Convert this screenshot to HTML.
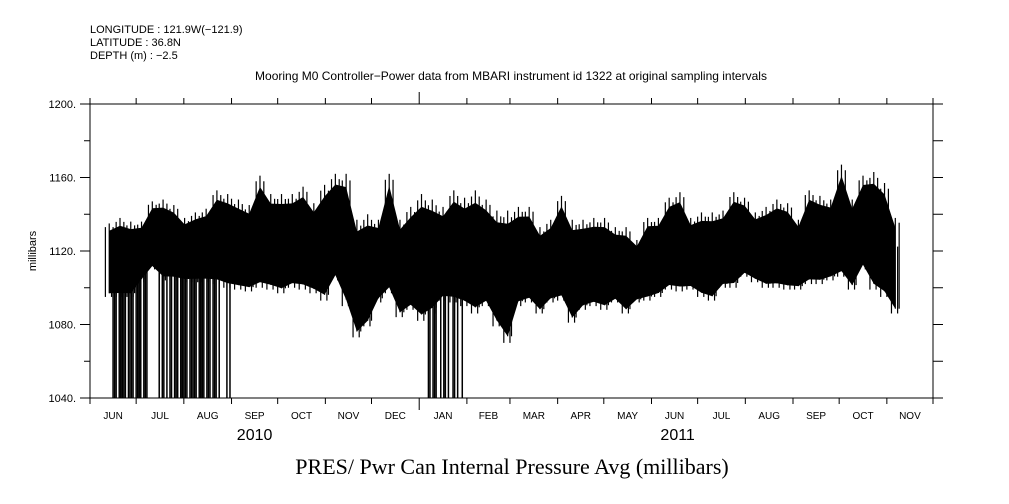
<!DOCTYPE html>
<html><head><meta charset="utf-8"><style>
body{margin:0;background:#fff;}
svg{display:block;font-family:"Liberation Sans",sans-serif;}
</style></head><body>
<svg id="chart" width="1009" height="504" viewBox="0 0 1009 504" xmlns="http://www.w3.org/2000/svg">
<g font-size="11" fill="#000">
<text x="90" y="33">LONGITUDE : 121.9W(−121.9)</text>
<text x="90" y="46">LATITUDE : 36.8N</text>
<text x="90" y="59">DEPTH (m) : −2.5</text>
</g>
<text x="511" y="80" font-size="12" text-anchor="middle">Mooring M0 Controller−Power data from MBARI instrument id 1322 at original sampling intervals</text>
<g id="axes"></g>
<g id="marks"></g>
<rect x="90" y="104" width="843" height="294" fill="none" stroke="#000" stroke-width="1"/>
<text transform="translate(36,251) rotate(-90)" font-size="11" text-anchor="middle">millibars</text>
<text x="512" y="474" font-family="'Liberation Serif',serif" font-size="22" text-anchor="middle">PRES/ Pwr Can Internal Pressure Avg (millibars)</text>
</svg>
<script>
// weekly bins starting 2010-06-10 (day 9 after Jun 1 2010)
const binHigh = [1135,1138,1136,1136,1147,1148,1145,1138,1141,1143,1153,1151,1148,1145,1161,1151,1151,1151,1155,1146,1156,1162,1162,1137,1140,1137,1162,1137,1144,1151,1148,1144,1153,1149,1153,1148,1142,1142,1144,1144,1133,1137,1150,1137,1137,1138,1138,1133,1133,1126,1138,1138,1149,1152,1138,1141,1141,1142,1152,1149,1141,1144,1148,1146,1137,1153,1150,1148,1167,1148,1161,1163,1157,1138];
const binLow = [1095,1095,1095,1103,1110,1104,1104,1103,1103,1103,1102,1100,1099,1098,1100,1099,1097,1100,1099,1097,1093,1104,1090,1073,1079,1092,1097,1084,1088,1082,1086,1093,1092,1090,1086,1090,1079,1070,1090,1092,1086,1092,1093,1081,1088,1090,1088,1092,1086,1092,1093,1095,1099,1098,1099,1095,1093,1100,1100,1106,1103,1100,1100,1099,1099,1102,1102,1104,1106,1099,1110,1099,1095,1086];
// days (since 2010-06-01) where the value drops to the axis floor
const dropoutDays = [15,16,17,19,20,21,22,23,25,26,27,28,30,31,32,33,35,36,37,45,47,48,50,52,53,55,56,57,59,60,61,62,63,65,66,67,68,69,71,72,73,74,76,77,78,80,81,82,84,89,91,220,221,223,224,225,228,230,231,233,236,237,239,242];
const yTicks = [1040,1080,1120,1160,1200];
const yMinor = [1060,1100,1140,1180];
const monthLabels = ["JUN","JUL","AUG","SEP","OCT","NOV","DEC","JAN","FEB","MAR","APR","MAY","JUN","JUL","AUG","SEP","OCT","NOV"];
const monthStartDays = [0,30,61,92,122,153,183,214,245,273,304,334,365,395,426,457,487,518,548];
const yearLabels = ["2010","2011"];
const yearDays = [107,382];
const binStartDay = 9, binLen = 7;

const X0=90, PXD=843/548, Y0=104, YH=294, VMIN=1040, VMAX=1200;
const xs = d => X0 + d*PXD;
const ys = v => Y0 + (VMAX-v)/(VMAX-VMIN)*YH;
const NS="http://www.w3.org/2000/svg";
function mk(tag, attrs, parent){const e=document.createElementNS(NS,tag);for(const k in attrs)e.setAttribute(k,attrs[k]);parent.appendChild(e);return e;}
const axesG=document.getElementById('axes'), marksG=document.getElementById('marks');

yTicks.forEach(v=>{
  const y=ys(v);
  let t=mk('line',{x1:80,x2:90,y1:y,y2:y,stroke:'#000'},axesG);
  
  
  t=mk('line',{x1:933,x2:943,y1:y,y2:y,stroke:'#000'},axesG);
  
  
  const l=mk('text',{x:76,y:y+4,'font-size':11,'text-anchor':'end'},axesG);
  l.textContent=v+'.';
  
  
});
yMinor.forEach(v=>{
  const y=ys(v);
  let t=mk('line',{x1:84,x2:90,y1:y,y2:y,stroke:'#000'},axesG);
  
  
  t=mk('line',{x1:933,x2:943,y1:y,y2:y,stroke:'#000'},axesG);
  
  
});
monthStartDays.forEach((d,i)=>{
  const x=xs(d), big=(d===214);
  let t=mk('line',{x1:x,x2:x,y1:398,y2:big?410:404,stroke:'#000'},axesG);
  
  
  t=mk('line',{x1:x,x2:x,y1:104,y2:big?92:98,stroke:'#000'},axesG);
  
  
  if(i<monthLabels.length){
    const mid=(d+monthStartDays[i+1])/2;
    const l=mk('text',{x:xs(mid),y:419,'font-size':10,'text-anchor':'middle'},axesG);
    l.textContent=monthLabels[i];
    
    
  }
});
yearLabels.forEach((y,i)=>{
  const l=mk('text',{x:xs(yearDays[i]),y:440,'font-size':16,'text-anchor':'middle'},axesG);
  l.textContent=y;
  
  
});

// core band polygon (slightly inset from weekly extremes), through bin centers
const envTop=[], envBot=[];
binHigh.forEach((h,i)=>{
  const lo=binLow[i], r=h-lo;
  const x=xs(binStartDay+i*binLen+binLen/2).toFixed(1);
  envTop.push(x+','+ys(h-0.1*r).toFixed(1));
  envBot.push(x+','+ys(lo+0.05*r).toFixed(1));
});
envBot.reverse();
const poly=mk('polygon',{points:envTop.concat(envBot).join(' '),fill:'#000'},marksG);


// spikes reaching weekly extremes
binHigh.forEach((h,i)=>{
  const d0=binStartDay+i*binLen, lo=binLow[i], r=h-lo;
  [1,3.5,6].forEach((o,k)=>{
    const x=xs(d0+o);
    const b=mk('line',{x1:x,x2:x,y1:ys(h-(k===1?0:0.05*r)),y2:ys(lo+(k===0?0:0.05*r)),stroke:'#000','stroke-width':1.2},marksG);
    
    
  });
  const xb=xs(d0+5);
  const b2=mk('line',{x1:xb,x2:xb,y1:ys(h-0.3*r),y2:ys(lo),stroke:'#000','stroke-width':1.2},marksG);
  
  
});
dropoutDays.forEach(d=>{
  const i=Math.max(0,Math.min(binLow.length-1,Math.floor((d-binStartDay)/binLen)));
  const x=xs(d);
  const l=mk('line',{x1:x,x2:x,y1:ys(binLow[i]+10),y2:ys(VMIN),stroke:'#000','stroke-width':1.5},marksG);
  
  
});
</script>
</body></html>
